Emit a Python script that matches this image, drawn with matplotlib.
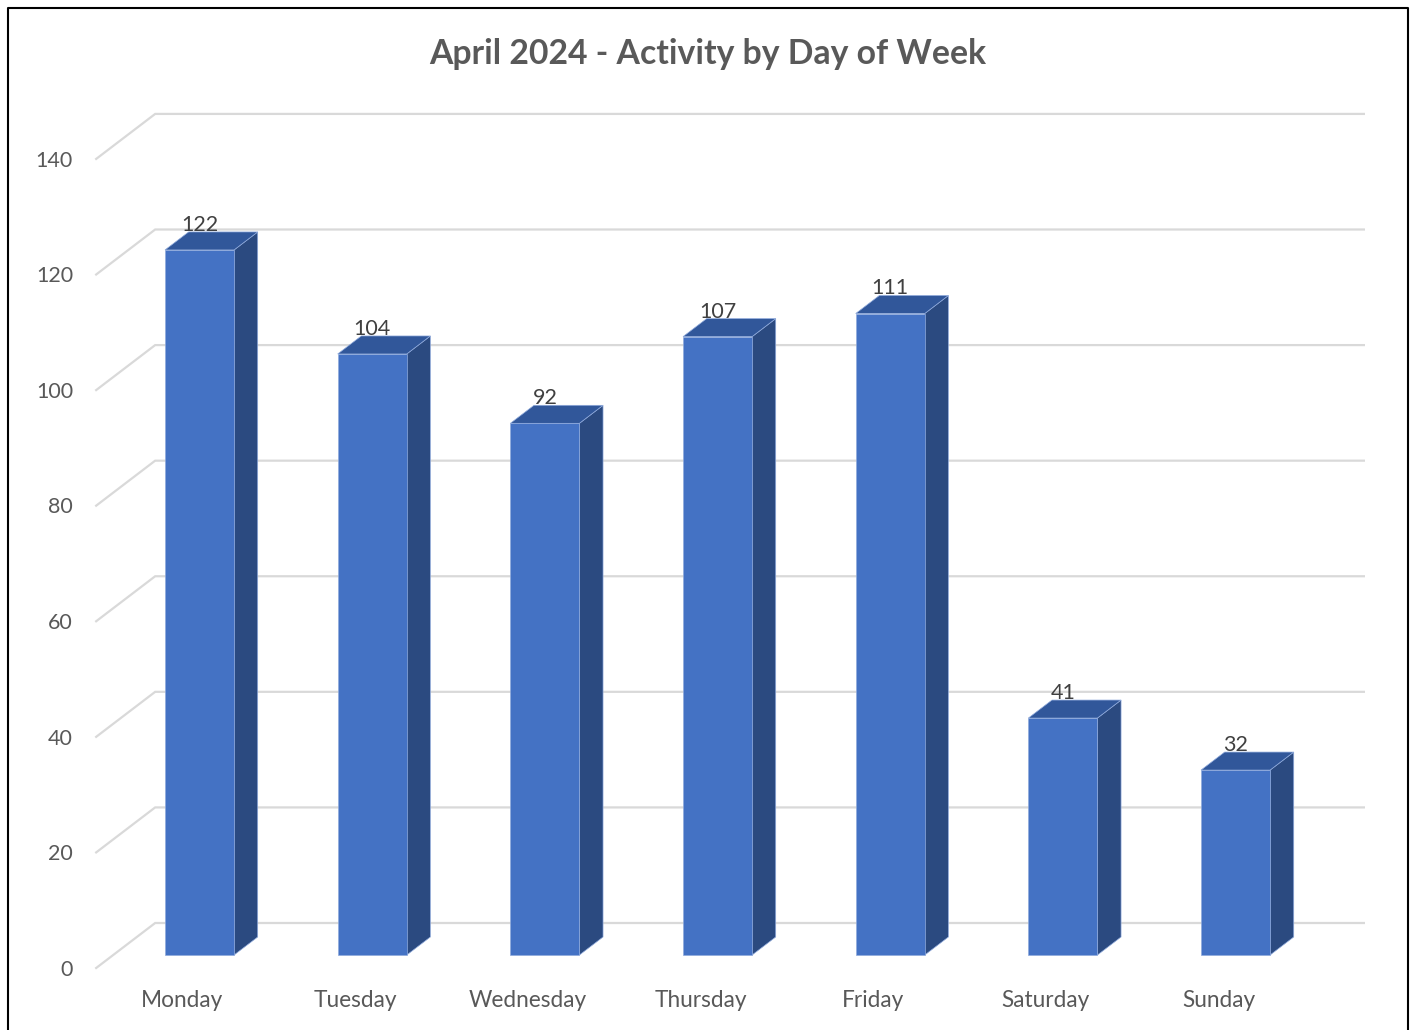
import matplotlib.pyplot as plt
from matplotlib.patches import Polygon
import numpy as np

days = ['Monday', 'Tuesday', 'Wednesday', 'Thursday', 'Friday', 'Saturday', 'Sunday']
counts = [122, 104, 92, 107, 111, 41, 32]
yticks = [0, 20, 40, 60, 80, 100, 120, 140]
title = 'April 2024 - Activity by Day of Week'

# fake 3d: depth z in [0,1] goes from front axis plane to back wall
DX, DY = 0.3417, 7.787
Z_FRONT, Z_BACK = 0.289, 0.689
HALF = 0.2

front_col = '#4472C4'
side_col = '#2B4A80'
top_col = '#31579A'
grid_col = '#D9D9D9'
text_col = '#595959'

plt.rcParams['font.family'] = ['Lato', 'DejaVu Sans']

def proj(x, v, z):
    return (x + z * DX, v + z * DY)

fig = plt.figure(figsize=(14.15, 10.30), dpi=100)
ax = fig.add_axes([0, 0, 1, 1])
ax.set_xlim(-1.0569, 7.1378)
ax.set_ylim(-10.728, 167.50)
ax.axis('off')

n = len(days)
# gridlines: diagonal on the side + line along the back wall
for t in yticks:
    p0 = proj(-0.5, t, 0)
    p1 = proj(-0.5, t, 1)
    p2 = proj(n - 0.5, t, 1)
    ax.plot([p0[0], p1[0], p2[0]], [p0[1], p1[1], p2[1]], color=grid_col, lw=1.6,
            solid_joinstyle='miter', zorder=1)
    ax.text(-0.634, t - 0.3, str(t), ha='right', va='center', fontsize=15.5, color=text_col)

for i, (d, v) in enumerate(zip(days, counts)):
    xl, xr = i - HALF, i + HALF
    front = [proj(xl, 0, Z_FRONT), proj(xr, 0, Z_FRONT), proj(xr, v, Z_FRONT), proj(xl, v, Z_FRONT)]
    side = [proj(xr, 0, Z_FRONT), proj(xr, 0, Z_BACK), proj(xr, v, Z_BACK), proj(xr, v, Z_FRONT)]
    top = [proj(xl, v, Z_FRONT), proj(xr, v, Z_FRONT), proj(xr, v, Z_BACK), proj(xl, v, Z_BACK)]
    for pts, c in [(side, side_col), (top, top_col), (front, front_col)]:
        ax.add_patch(Polygon(pts, closed=True, facecolor=c, edgecolor='#8FAADC',
                             lw=0.5, zorder=3))
    lx, ly = proj(i, v, Z_FRONT)
    _, ly = proj(i, v, Z_BACK)
    ax.text(lx, ly - 0.5, str(v), ha='center', va='bottom', fontsize=15.5,
            color='#404040', zorder=4)
    ax.text(i, -5.6, d, ha='center', va='center', fontsize=16.3, color=text_col)

fig.text(0.5, 1 - 54 / 1030, title, ha='center', va='center', fontsize=24.3,
         fontweight='bold', color=text_col)

# chart border
bx0, bx1, by1 = 8 / 1415, 1408 / 1415, 1 - 8 / 1030
fig.add_artist(plt.Line2D([bx0, bx0, bx1, bx1], [-0.01, by1, by1, -0.01],
                          color='black', lw=1.5, transform=fig.transFigure))

fig.savefig('out.png', dpi=100)
